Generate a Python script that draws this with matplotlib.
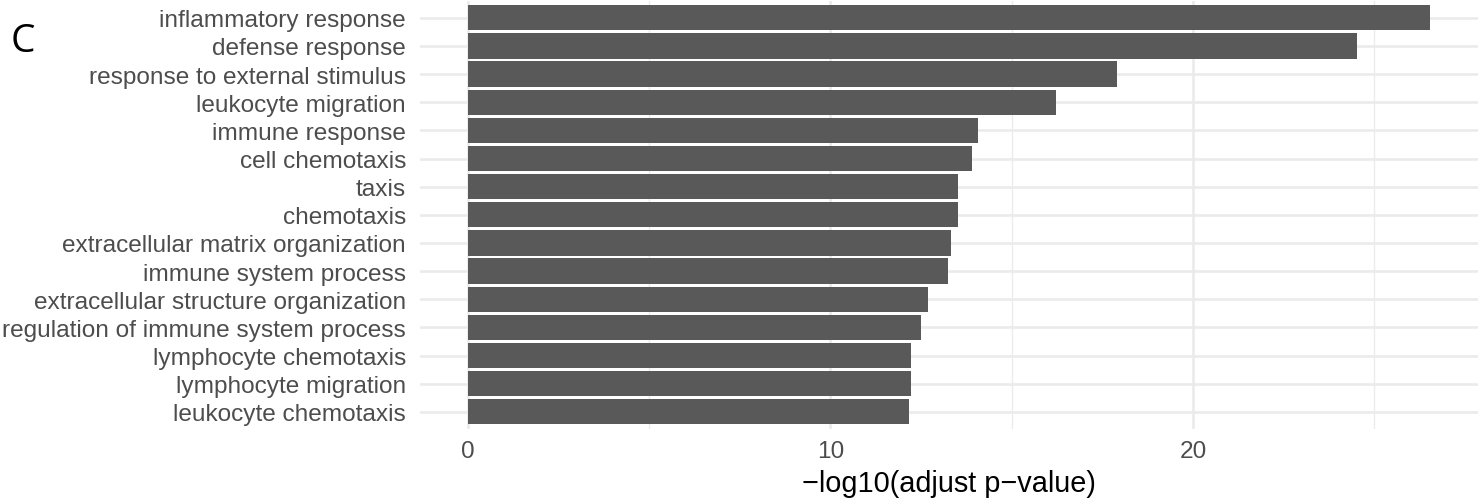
import matplotlib
matplotlib.use('Agg')
from matplotlib import pyplot as plt
from matplotlib.ticker import MultipleLocator

# GO terms, listed top to bottom as they appear on the chart
terms = ['inflammatory response', 'defense response', 'response to external stimulus',
         'leukocyte migration', 'immune response', 'cell chemotaxis', 'taxis', 'chemotaxis',
         'extracellular matrix organization', 'immune system process',
         'extracellular structure organization', 'regulation of immune system process',
         'lymphocyte chemotaxis', 'lymphocyte migration', 'leukocyte chemotaxis']
neg_log10_padj = [26.54, 24.54, 17.91, 16.21, 14.07, 13.90, 13.53, 13.53,
                  13.32, 13.24, 12.69, 12.50, 12.23, 12.23, 12.17]
x_ticks = [0, 10, 20]

plt.rcParams['font.family'] = ['Liberation Sans', 'DejaVu Sans']

fig = plt.figure(figsize=(14.78, 5.02), dpi=100)
ax = fig.add_axes([420 / 1478, 1 - 429.7 / 502, 1058 / 1478, 427.8 / 502])

# bottom-up order for barh
labels = terms[::-1]
values = neg_log10_padj[::-1]
pos = list(range(len(labels)))

ax.barh(pos, values, height=0.9, color='#595959', zorder=3)

xmax = max(values)
ax.set_xlim(-0.05 * xmax, 1.05 * xmax)
ax.set_ylim(-0.6, len(labels) - 1 + 0.6)

ax.set_xticks(x_ticks)
ax.xaxis.set_minor_locator(MultipleLocator(5))
ax.set_yticks(pos)
ax.set_yticklabels(labels)

ax.grid(which='major', color='#EBEBEB', linewidth=1.9, zorder=0)
ax.grid(which='minor', axis='x', color='#EBEBEB', linewidth=0.95, zorder=0)
ax.set_axisbelow(True)
for s in ax.spines.values():
    s.set_visible(False)

ax.tick_params(axis='both', which='both', length=0, labelsize=17.6, labelcolor='#4D4D4D')
ax.tick_params(axis='y', pad=10)
ax.tick_params(axis='x', pad=8)

ax.set_xlabel('\u2212log10(adjust p\u2212value)', fontsize=20.8, color='black', labelpad=5.5)

fig.text(0.0075, 1 - 52 / 502, 'C', fontsize=28, color='black', ha='left', va='baseline',
         family=['Open Sans', 'DejaVu Sans'])

fig.savefig('out.png', dpi=100)
